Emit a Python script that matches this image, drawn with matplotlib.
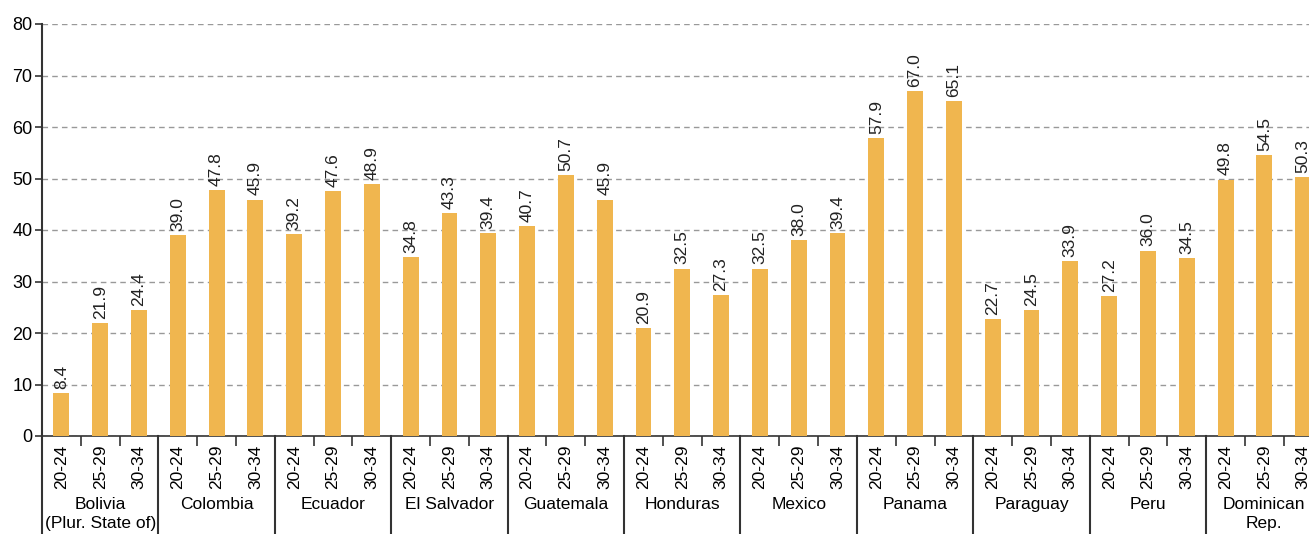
import matplotlib.pyplot as plt
import numpy as np
from matplotlib.transforms import blended_transform_factory

plt.rcParams['font.family'] = ['Liberation Sans Narrow', 'Liberation Sans', 'DejaVu Sans']

countries = ["Bolivia\n(Plur. State of)", "Colombia", "Ecuador", "El Salvador", "Guatemala",
             "Honduras", "Mexico", "Panama", "Paraguay", "Peru", "Dominican\nRep."]
ages = ["20-24", "25-29", "30-34"]
values = [
    [8.4, 21.9, 24.4],
    [39.0, 47.8, 45.9],
    [39.2, 47.6, 48.9],
    [34.8, 43.3, 39.4],
    [40.7, 50.7, 45.9],
    [20.9, 32.5, 27.3],
    [32.5, 38.0, 39.4],
    [57.9, 67.0, 65.1],
    [22.7, 24.5, 33.9],
    [27.2, 36.0, 34.5],
    [49.8, 54.5, 50.3],
]

vals = np.array(values).ravel()
n = len(vals)
x = np.arange(n)
labels = ages * len(countries)

fig = plt.figure(figsize=(13.09, 5.34), dpi=100)
ax = fig.add_axes([42/1309, 98/534, 1 - 42/1309, 412/534])

bars = ax.bar(x, vals, 0.41, color='#F0B64F', zorder=3)
for xi, v in zip(x, vals):
    ax.annotate(f"{v:.1f}", (xi, v), xytext=(0, 3), textcoords='offset points',
                rotation=90, ha='center', va='bottom', fontsize=12.5, color='#222222')

ax.set_xlim(-0.5, 32.15)
ax.set_ylim(0, 80)
ax.set_yticks(np.arange(0, 81, 10))
ax.yaxis.grid(True, linestyle=(0, (4, 3)), color='#999999', linewidth=1, zorder=0)
ax.set_axisbelow(True)
ax.tick_params(axis='y', labelsize=13, length=5, width=1.2, color='#333333', pad=2)

ax.set_xticks(x)
ax.set_xticklabels(labels, rotation=90, fontsize=12.5)
ax.tick_params(axis='x', length=0, pad=6)
minor = [i + 0.5 for i in range(n - 1) if (i + 1) % 3 != 0]
ax.set_xticks(minor, minor=True)
ax.tick_params(axis='x', which='minor', length=7, width=1.2, color='#333333')

for s in ['top', 'right']:
    ax.spines[s].set_visible(False)
ax.spines['left'].set_linewidth(1.5)
ax.spines['left'].set_color('#333333')
ax.spines['bottom'].set_linewidth(1.2)
ax.spines['bottom'].set_color('#333333')

# group separators running down past the axis
tr = blended_transform_factory(ax.transData, ax.transAxes)
for g in range(len(countries) + 1):
    xs = g * 3 - 0.5
    ax.plot([xs, xs], [0, -0.25], transform=tr, color='#333333', lw=1.5, clip_on=False)
for g, name in enumerate(countries):
    ax.text(g * 3 + 1, -0.148, name, transform=tr, ha='center', va='top',
            fontsize=12.5, linespacing=1.35)

fig.savefig('out.png', dpi=100)
